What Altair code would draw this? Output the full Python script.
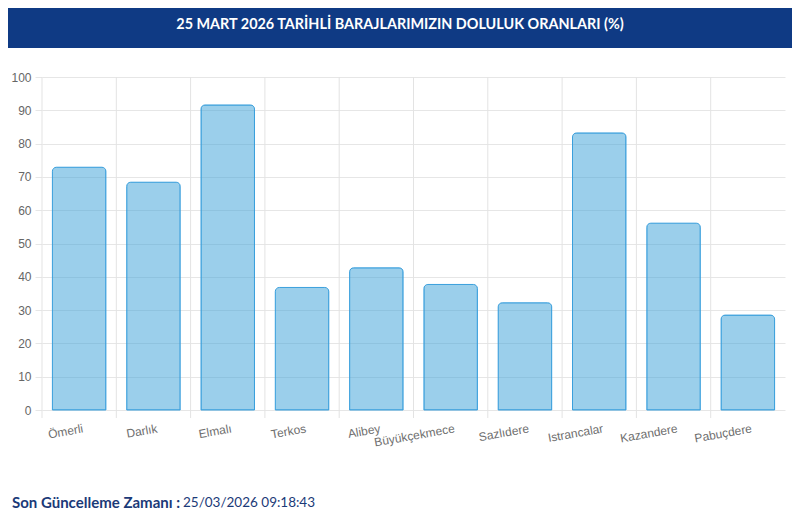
import altair as alt
import pandas as pd

categories = ["Ömerli", "Darlık", "Elmalı", "Terkos", "Alibey", "Büyükçekmece",
              "Sazlıdere", "Istrancalar", "Kazandere", "Pabuçdere"]
values = [72.9, 68.4, 91.6, 36.8, 42.7, 37.7, 32.2, 83.2, 56.1, 28.5]
y_ticks = [0, 10, 20, 30, 40, 50, 60, 70, 80, 90, 100]
title_text = ["25 MART 2026 TARİHLİ BARAJLARIMIZIN DOLULUK ORANLARI (%)"]
footer_label = ["Son Güncelleme Zamanı :"]
footer_value = ["25/03/2026 09:18:43"]

W, H = 743, 333
PAD_L, PAD_T, PAD_R, PAD_B = 34, 69, 7, 110

df = pd.DataFrame({"baraj": categories, "oran": values})

xscale = alt.Scale(domain=categories, paddingInner=0, paddingOuter=0)
yscale = alt.Scale(domain=[0, 100], nice=False)

xaxis = alt.Axis(title=None, grid=False, ticks=False, domain=False,
                 labelAngle=350, labelAlign="right", labelBaseline="top",
                 labelPadding=13, labelOffset=3, labelColor="#6e6e6e",
                 labelFont="Liberation Sans", labelFontSize=12)
yaxis = alt.Axis(title=None, values=y_ticks, grid=True, gridColor="#e6e6e6",
                 tickColor="#e6e6e6", tickSize=7, domain=False,
                 labelColor="#666666", labelFont="Liberation Sans",
                 labelFontSize=12, labelPadding=4)

vgrid = alt.Chart(df).mark_rule(color="#e3e3e3", strokeWidth=1).encode(
    x=alt.X("baraj:N", scale=xscale, bandPosition=0, axis=xaxis, sort=categories),
    y=alt.value(0),
    y2=alt.value(H + 8),
)

bars = alt.Chart(df).mark_bar(
    width=alt.RelativeBandSize(0.72),
    fill="#38a0d8", fillOpacity=0.5,
    stroke="#3a9fdc", strokeWidth=1,
    cornerRadiusTopLeft=4, cornerRadiusTopRight=4,
).encode(
    x=alt.X("baraj:N", scale=xscale, axis=xaxis, sort=categories),
    y=alt.Y("oran:Q", scale=yscale, axis=yaxis),
)

banner_df = pd.DataFrame({"t": title_text})
banner = alt.Chart(banner_df).mark_rect(color="#0f3a84").encode(
    x=alt.value(-PAD_L), x2=alt.value(W + PAD_R),
    y=alt.value(-PAD_T), y2=alt.value(-PAD_T + 40),
)
banner_text = alt.Chart(banner_df).mark_text(
    color="white", font="Lato", fontWeight="bold", fontSize=14.4,
    align="center", baseline="middle",
).encode(
    text="t:N",
    x=alt.value((W + PAD_R - PAD_L) / 2),
    y=alt.value(-PAD_T + 17),
)

foot1 = alt.Chart(pd.DataFrame({"t": footer_label})).mark_text(
    color="#1b3a78", font="Lato", fontWeight="bold", fontSize=15,
    align="left", baseline="middle",
).encode(text="t:N", x=alt.value(-30), y=alt.value(426))

foot2 = alt.Chart(pd.DataFrame({"t": footer_value})).mark_text(
    color="#1b3a78", font="Lato", fontSize=13.5,
    align="left", baseline="middle",
).encode(text="t:N", x=alt.value(141), y=alt.value(426))

chart = alt.layer(vgrid, bars, banner, banner_text, foot1, foot2).properties(
    width=W, height=H,
    autosize=alt.AutoSizeParams(type="none"),
    padding={"left": PAD_L, "top": PAD_T, "right": PAD_R, "bottom": PAD_B},
).configure_view(stroke=None)

chart.save("out.html", embed_options={"renderer": "svg", "actions": False})
